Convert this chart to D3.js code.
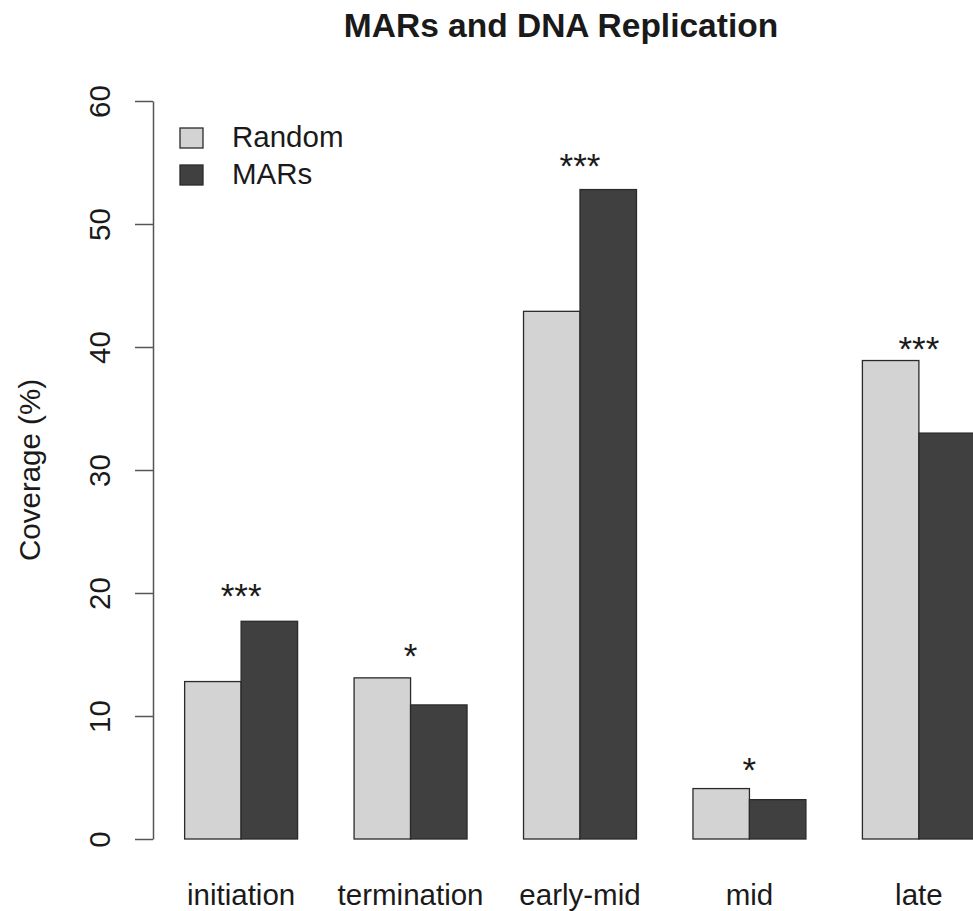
<!DOCTYPE html>
<html lang="en">
  <head>
    <meta charset="utf-8">
    <title>MARs and DNA Replication</title>
    <style>
      body { margin: 0; background: #fff; }
      text { font-family: "Liberation Sans", Arial, Helvetica, sans-serif; fill: #1a1a1a; }
    </style>
    <script src="https://cdn.jsdelivr.net/npm/d3@7"></script>
  </head>
  <body>

    <div id="viz"></div>

    <script>

    // data
    var categories = ['initiation', 'termination', 'early-mid', 'mid', 'late'];
    var series = ['Random', 'MARs'];
    var randomCov = [12.8, 13.1, 42.9, 4.1, 38.9];
    var marsCov = [17.7, 10.9, 52.8, 3.2, 33.0];
    var signif = ['***', '*', '***', '*', '***'];
    var signifAt = [19.4, 14.5, 54.4, 5.3, 39.5];   // y (in %) where each star label sits
    var yTicks = [0, 10, 20, 30, 40, 50, 60];

    var colors = { Random: '#d3d3d3', MARs: '#404040' };

    var width = 973, height = 911;

    var svg = d3.select('#viz')
        .append('svg')
        .attr('width', width)
        .attr('height', height);

    // R barplot user coords: 5 groups of 2 bars, space=c(0,1)
    var usr = d3.scaleLinear().domain([0.44, 15.56]).range([153, 1007]);

    var x0 = d3.scaleBand()
        .domain(categories)
        .range([usr(0), usr(15)])
        .paddingInner(1 / 3)
        .paddingOuter(1 / 6)
        .align(1);

    var x1 = d3.scaleBand()
        .domain(series)
        .range([0, x0.bandwidth()]);

    var y = d3.scaleLinear().domain([0, 60]).range([839, 101]);

    var rows = categories.map(function(c, i) {
      return { cat: c, Random: randomCov[i], MARs: marsCov[i], sig: signif[i], sigY: signifAt[i] };
    });

    // bars
    var groups = svg.append('g')
      .selectAll('g')
      .data(rows)
      .enter()
      .append('g')
        .attr('transform', function(d) { return 'translate(' + x0(d.cat) + ',0)'; });

    groups.selectAll('rect')
      .data(function(d) { return series.map(function(s) { return { key: s, value: d[s] }; }); })
      .enter()
      .append('rect')
        .attr('x', function(d) { return x1(d.key); })
        .attr('y', function(d) { return y(d.value); })
        .attr('width', x1.bandwidth())
        .attr('height', function(d) { return y(0) - y(d.value); })
        .attr('fill', function(d) { return colors[d.key]; })
        .attr('stroke', '#2a2a2a')
        .attr('stroke-width', 1.3);

    // significance stars
    groups.append('text')
      .attr('x', x0.bandwidth() / 2)
      .attr('y', function(d) { return y(d.sigY); })
      .attr('dy', '0.22em')
      .attr('text-anchor', 'middle')
      .style('font-size', '35px')
      .text(function(d) { return d.sig; });

    // category labels
    svg.append('g')
      .selectAll('text')
      .data(categories)
      .enter()
      .append('text')
        .attr('x', function(d) { return x0(d) + x0.bandwidth() / 2; })
        .attr('y', 905)
        .attr('text-anchor', 'middle')
        .style('font-size', '29.5px')
        .text(function(d) { return d; });

    // y axis (R style, rotated labels)
    var yAxis = d3.axisLeft(y)
        .tickValues(yTicks)
        .tickSize(18)
        .tickSizeOuter(0)
        .tickPadding(0);

    var ax = svg.append('g')
        .attr('transform', 'translate(153,0)')
        .call(yAxis);

    ax.select('.domain').attr('stroke', '#555').attr('stroke-width', 1.5);
    ax.selectAll('.tick line').attr('stroke', '#555').attr('stroke-width', 1.5);
    ax.selectAll('.tick text')
        .attr('x', null)
        .attr('dy', null)
        .attr('text-anchor', 'middle')
        .attr('transform', 'translate(-43,0) rotate(-90)')
        .style('font-size', '29.5px')
        .style('font-family', '"Liberation Sans", Arial, Helvetica, sans-serif')
        .attr('fill', '#1a1a1a');

    // y label
    svg.append('text')
      .attr('transform', 'translate(40,' + y(30) + ') rotate(-90)')
      .attr('text-anchor', 'middle')
      .style('font-size', '29.5px')
      .text('Coverage (%)');

    // title
    svg.append('text')
      .attr('x', 561)
      .attr('y', 37)
      .attr('text-anchor', 'middle')
      .style('font-size', '33.5px')
      .style('font-weight', 'bold')
      .text('MARs and DNA Replication');

    // legend
    var legend = svg.append('g')
      .selectAll('g')
      .data(series)
      .enter()
      .append('g')
        .attr('transform', function(d, i) { return 'translate(180,' + (128 + i * 37) + ')'; });

    legend.append('rect')
      .attr('width', 23)
      .attr('height', 20)
      .attr('fill', function(d) { return colors[d]; })
      .attr('stroke', '#2a2a2a')
      .attr('stroke-width', 1.3);

    legend.append('text')
      .attr('x', 52)
      .attr('y', 19)
      .style('font-size', '29.5px')
      .text(function(d) { return d; });

    </script>
  </body>
</html>
